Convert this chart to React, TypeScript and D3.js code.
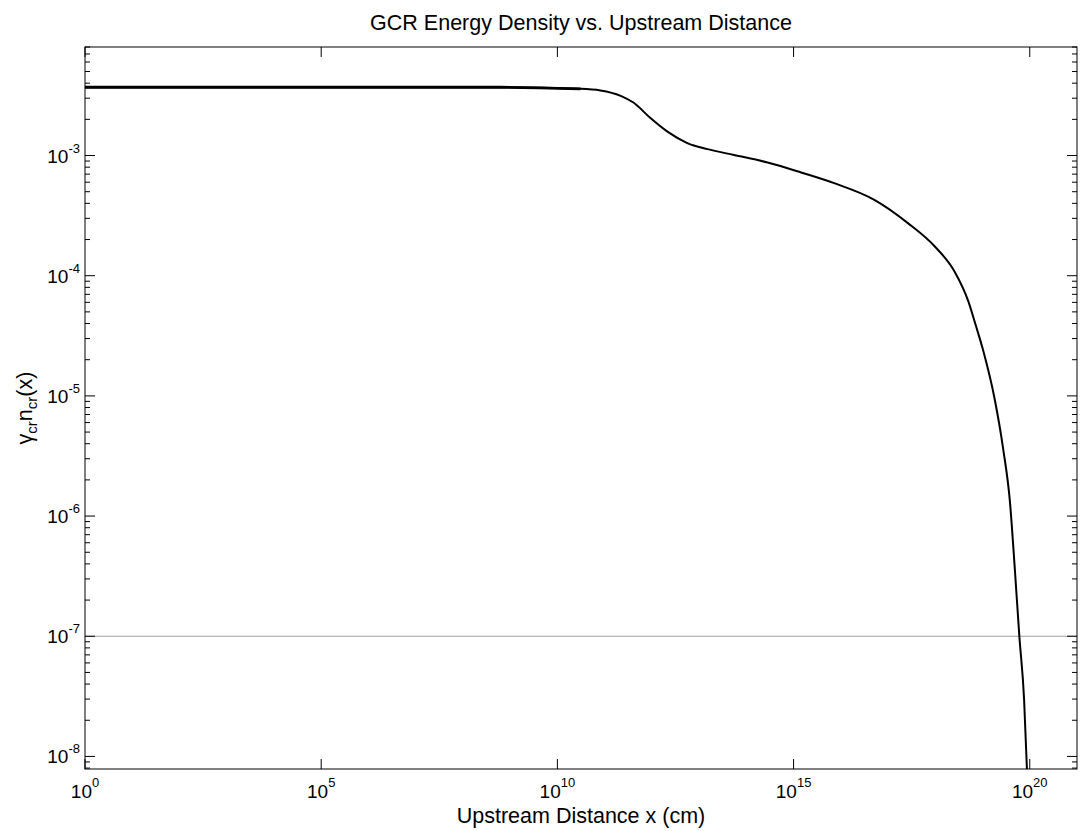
import React, { useEffect, useRef } from "react";
import * as d3 from "d3";

// distance exponents (log10 of x in cm) and the energy density read at each
const distanceExp = [
  0, 8.79, 10.49, 10.91, 11.34, 11.61, 11.97, 12.33, 12.75, 13.18, 13.74, 14.45,
  15.16, 15.86, 16.71, 17.42, 17.99, 18.41, 18.7, 18.86, 19.01, 19.26, 19.44,
  19.58, 19.68, 19.78, 19.88, 19.94,
];
const energyDensity = [
  3.7e-3, 3.7e-3, 3.59e-3, 3.48e-3, 3.14e-3, 2.76e-3, 2.05e-3, 1.58e-3,
  1.27e-3, 1.13e-3, 1.01e-3, 8.75e-4, 7.23e-4, 5.89e-4, 4.28e-4, 2.74e-4,
  1.75e-4, 1.08e-4, 6.12e-5, 3.83e-5, 2.42e-5, 9.29e-6, 3.56e-6, 1.32e-6,
  3.81e-7, 9.95e-8, 2.98e-8, 7.85e-9,
];
const xTickExp = [0, 5, 10, 15, 20];
const yTickExp = [-8, -7, -6, -5, -4, -3];
const thresholdValue = 1e-7;

const xDomain = [1, 1e21];
const yDomain = [7.86e-9, 8e-3];

const FONT = "'Liberation Sans', Arial, Helvetica, sans-serif";

export default function App() {
  const ref = useRef<SVGSVGElement>(null);

  useEffect(() => {
    const margin = { top: 47, right: 4, bottom: 62, left: 85 };
    const W = 1081;
    const H = 831;
    const width = W - margin.left - margin.right;
    const height = H - margin.top - margin.bottom;

    const svg = d3.select(ref.current);
    svg.selectAll("*").remove();

    const g = svg
      .append("g")
      .attr("transform", `translate(${margin.left}, ${margin.top})`);

    const x = d3.scaleLog().domain(xDomain).range([0, width]);
    const y = d3.scaleLog().domain(yDomain).range([height, 0]);

    // threshold line
    g.append("line")
      .attr("x1", 0)
      .attr("x2", width)
      .attr("y1", y(thresholdValue))
      .attr("y2", y(thresholdValue))
      .attr("stroke", "#a0a0a0")
      .attr("stroke-width", 1.2);

    // curve
    const pts: [number, number][] = distanceExp.map((e, i) => [
      Math.pow(10, e),
      energyDensity[i],
    ]);
    const line = d3
      .line<[number, number]>()
      .x((d) => x(d[0]))
      .y((d) => y(d[1]))
      .curve(d3.curveMonotoneX);
    g.append("path")
      .datum(pts)
      .attr("d", line)
      .attr("fill", "none")
      .attr("stroke", "#000")
      .attr("stroke-width", 2);
    // the flat stretch is drawn heavier in the original
    g.append("path")
      .datum(pts.slice(0, 3))
      .attr("d", line)
      .attr("fill", "none")
      .attr("stroke", "#000")
      .attr("stroke-width", 2.8);

    // box
    g.append("rect")
      .attr("width", width)
      .attr("height", height)
      .attr("fill", "none")
      .attr("stroke", "#000")
      .attr("stroke-width", 1);

    // x ticks, inward on bottom and top
    xTickExp.forEach((e) => {
      const px = x(Math.pow(10, e));
      g.append("line")
        .attr("x1", px).attr("x2", px)
        .attr("y1", height).attr("y2", height - 10)
        .attr("stroke", "#000");
      g.append("line")
        .attr("x1", px).attr("x2", px)
        .attr("y1", 0).attr("y2", 10)
        .attr("stroke", "#000");
      const t = g
        .append("text")
        .attr("x", px)
        .attr("y", height + 29)
        .attr("font-family", FONT)
        .attr("font-size", 19)
        .attr("text-anchor", "middle");
      t.append("tspan").text("10");
      t.append("tspan")
        .attr("dy", -11)
        .attr("font-size", 13)
        .text(String(e));
    });

    // y ticks: majors and minors, inward on left and right
    yTickExp.forEach((e) => {
      const py = y(Math.pow(10, e));
      [0, width].forEach((sx) => {
        const dir = sx === 0 ? 1 : -1;
        g.append("line")
          .attr("x1", sx).attr("x2", sx + dir * 10)
          .attr("y1", py).attr("y2", py)
          .attr("stroke", "#000");
      });
      const t = g
        .append("text")
        .attr("x", -5)
        .attr("y", py + 7)
        .attr("font-family", FONT)
        .attr("font-size", 19)
        .attr("text-anchor", "end");
      t.append("tspan").text("10");
      t.append("tspan")
        .attr("dy", -10)
        .attr("font-size", 13)
        .text(String(e));
    });
    for (let e = -9; e <= -3; e++) {
      for (let m = 2; m <= 9; m++) {
        const v = m * Math.pow(10, e);
        if (v < yDomain[0] || v > yDomain[1]) continue;
        const py = y(v);
        [0, width].forEach((sx) => {
          const dir = sx === 0 ? 1 : -1;
          g.append("line")
            .attr("x1", sx).attr("x2", sx + dir * 5)
            .attr("y1", py).attr("y2", py)
            .attr("stroke", "#000");
        });
      }
    }

    // title
    svg
      .append("text")
      .attr("x", margin.left + width / 2)
      .attr("y", 30)
      .attr("text-anchor", "middle")
      .attr("font-family", FONT)
      .attr("font-size", 21.5)
      .text("GCR Energy Density vs. Upstream Distance");

    // x label
    svg
      .append("text")
      .attr("x", margin.left + width / 2)
      .attr("y", 823)
      .attr("text-anchor", "middle")
      .attr("font-family", FONT)
      .attr("font-size", 21.5)
      .text("Upstream Distance x (cm)");

    // y label
    const yl = svg
      .append("text")
      .attr("transform", `translate(32, ${margin.top + height / 2}) rotate(-90)`)
      .attr("text-anchor", "middle")
      .attr("font-family", FONT)
      .attr("font-size", 21.5);
    yl.append("tspan").text("\u03b3");
    yl.append("tspan").attr("dy", 5).attr("font-size", 15).text("cr");
    yl.append("tspan").attr("dy", -5).text("n");
    yl.append("tspan").attr("dy", 5).attr("font-size", 15).text("cr");
    yl.append("tspan").attr("dy", -5).text("(x)");
  }, []);

  return (
    <svg
      ref={ref}
      width={1081}
      height={831}
      style={{ position: "absolute", left: 0, top: 0, background: "#fff" }}
    />
  );
}
